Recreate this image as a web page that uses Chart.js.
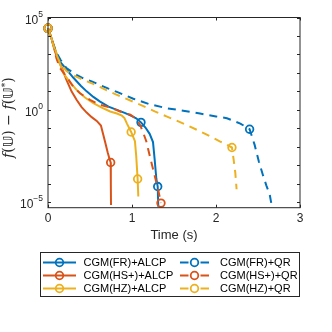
<!DOCTYPE html>
<html><head><meta charset="utf-8">
<script src="https://cdn.jsdelivr.net/npm/chart.js@4/dist/chart.umd.min.js"></script>
<style>html,body{margin:0;padding:0;background:#fff}</style>
</head><body>
<canvas id="c" width="332" height="332"></canvas>
<script>
// ---- data ----
const seriesNames = ['CGM(FR)+ALCP','CGM(HS+)+ALCP','CGM(HZ)+ALCP','CGM(FR)+QR','CGM(HS+)+QR','CGM(HZ)+QR'];
const xTicks = [0, 1, 2, 3];
const yTickExponents = [-5, 0, 5];

const tFR_ALCP = [0, 0.05, 0.10, 0.143, 0.20, 0.30, 0.39, 0.46, 0.54, 0.62, 0.72, 0.82, 0.92, 0.98, 1.05, 1.107, 1.16, 1.21, 1.25, 1.27, 1.29, 1.306, 1.313];
const fFR_ALCP = [2.6e4, 5.6e3, 1.1e3, 4.0e2, 2.0e2, 56, 20, 10, 5.0, 2.8, 1.5, 1.0, 0.66, 0.5, 0.35, 0.21, 0.11, 0.05, 0.018, 2.0e-3, 1.8e-4, 7.0e-5, 5.6e-6];
const mFR_ALCP = [0, 15, 21];

const tHS_ALCP = [0, 0.04, 0.08, 0.12, 0.163, 0.22, 0.28, 0.34, 0.40, 0.46, 0.52, 0.58, 0.63, 0.655, 0.68, 0.71, 0.735, 0.746, 0.748, 0.75];
const fHS_ALCP = [2.6e4, 7.9e3, 1.6e3, 5.0e2, 2.0e2, 42, 10, 3.5, 1.4, 0.71, 0.40, 0.25, 0.14, 0.05, 0.018, 5.0e-3, 2.0e-3, 1.4e-3, 1.0e-4, 7.1e-6];
const mHS_ALCP = [0, 17];

const tHZ_ALCP = [0, 0.05, 0.09, 0.123, 0.18, 0.26, 0.34, 0.44, 0.54, 0.64, 0.74, 0.82, 0.88, 0.91, 0.94, 0.99, 1.035, 1.05, 1.067, 1.075];
const fHZ_ALCP = [2.6e4, 5.6e3, 1.6e3, 5.6e2, 1.0e2, 32, 12, 4.6, 2.3, 1.3, 0.81, 0.63, 0.48, 0.36, 0.18, 0.063, 0.020, 3.2e-3, 1.8e-4, 2.0e-5];
const mHZ_ALCP = [0, 15, 18];

const tFR_QR = [0, 0.05, 0.10, 0.15, 0.22, 0.34, 0.42, 0.52, 0.62, 0.72, 0.82, 0.92, 1.016, 1.21, 1.41, 1.61, 1.81, 2.0, 2.13, 2.21, 2.29, 2.40, 2.46, 2.51, 2.56, 2.60, 2.64, 2.675];
const fFR_QR = [2.6e4, 5.0e3, 1.26e3, 5.0e2, 1.8e2, 78, 50, 35, 22, 14, 9.3, 6.0, 4.0, 2.0, 1.23, 0.89, 0.63, 0.44, 0.35, 0.25, 0.18, 0.089, 0.0126, 1.6e-3, 2.8e-4, 7.9e-5, 2.5e-5, 3.2e-6];
const mFR_QR = [0, 21];

const tHS_QR = [0, 0.03, 0.063, 0.10, 0.143, 0.22, 0.30, 0.38, 0.50, 0.62, 0.72, 0.80, 0.857, 0.90, 0.98, 1.056, 1.10, 1.135, 1.17, 1.194, 1.25, 1.31, 1.345];
const fHS_QR = [2.6e4, 1.0e4, 3.5e3, 6.3e2, 1.8e2, 63, 18, 7.9, 3.5, 1.86, 1.4, 1.05, 0.81, 0.71, 0.54, 0.32, 0.14, 0.055, 0.020, 6.9e-3, 6.3e-4, 5.0e-5, 8.9e-6];
const mHS_QR = [0, 22];

const tHZ_QR = [0, 0.05, 0.10, 0.143, 0.22, 0.30, 0.38, 0.46, 0.58, 0.70, 0.82, 0.98, 1.135, 1.27, 1.41, 1.53, 1.65, 1.77, 1.89, 2.05, 2.09, 2.19, 2.21, 2.23, 2.245];
const fHZ_QR = [2.6e4, 5.0e3, 1.0e3, 3.5e2, 1.26e2, 76, 51, 35, 21, 11.2, 6.5, 3.2, 1.6, 0.83, 0.44, 0.26, 0.15, 0.083, 0.045, 0.019, 0.016, 9.1e-3, 2.0e-3, 3.8e-4, 5.0e-5];
const mHZ_QR = [0, 21];

// ---- styling ----
const BLUE = '#0072BD', ORANGE = '#D95319', YELLOW = '#EDB120';
const series = [
  [tFR_ALCP, fFR_ALCP, mFR_ALCP, BLUE, false],
  [tHS_ALCP, fHS_ALCP, mHS_ALCP, ORANGE, false],
  [tHZ_ALCP, fHZ_ALCP, mHZ_ALCP, YELLOW, false],
  [tFR_QR, fFR_QR, mFR_QR, BLUE, true],
  [tHS_QR, fHS_QR, mHS_QR, ORANGE, true],
  [tHZ_QR, fHZ_QR, mHZ_QR, YELLOW, true]
];
const DASH = [8, 6];
const datasets = series.map((s, i) => ({
  label: seriesNames[i],
  data: s[0].map((t, j) => ({x: t, y: s[1][j]})),
  borderColor: s[3],
  backgroundColor: 'rgba(0,0,0,0)',
  borderWidth: 2,
  borderDash: s[4] ? DASH : [],
  pointRadius: c => s[2].includes(c.dataIndex) ? 3.8 : 0,
  pointBorderWidth: 1.8,
  pointBorderColor: s[3],
  pointBackgroundColor: 'rgba(0,0,0,0)',
  pointHoverRadius: 0,
  tension: 0,
  order: 10 - i,
  clip: {left: 10, top: 10, right: 0, bottom: 0}
}));

const TXT = '#262626';
const SANS = "'Liberation Sans', 'DejaVu Sans', sans-serif";
Chart.defaults.font.family = SANS;
Chart.defaults.color = TXT;

const boxPlugin = {
  id: 'box',
  afterDraw(chart) {
    const {ctx, chartArea: a, scales: {x, y}} = chart;
    ctx.save();
    ctx.setLineDash([]);
    ctx.strokeStyle = TXT; ctx.lineWidth = 1;
    ctx.strokeRect(a.left, a.top, a.right - a.left, a.bottom - a.top);
    ctx.beginPath();
    xTicks.forEach(v => {
      const px = Math.round(x.getPixelForValue(v)) + 0.5;
      ctx.moveTo(px, a.bottom); ctx.lineTo(px, a.bottom - 3);
      ctx.moveTo(px, a.top); ctx.lineTo(px, a.top + 3);
    });
    for (let k = -5; k <= 5; k++) {
      const py = Math.round(y.getPixelForValue(Math.pow(10, k))) + 0.5;
      ctx.moveTo(a.left, py); ctx.lineTo(a.left + 3, py);
      ctx.moveTo(a.right, py); ctx.lineTo(a.right - 3, py);
    }
    ctx.stroke();

    // y tick labels 10^k with real superscripts
    ctx.fillStyle = TXT;
    ctx.textBaseline = 'middle';
    yTickExponents.forEach(k => {
      const py = y.getPixelForValue(Math.pow(10, k));
      const exp = k < 0 ? '−' + (-k) : String(k);
      ctx.font = '8.5px ' + SANS;
      const we = ctx.measureText(exp).width;
      ctx.font = '12px ' + SANS;
      const wb = ctx.measureText('10').width;
      const xr = a.left - 5;
      ctx.fillText('10', xr - we - wb, py + 3);
      ctx.font = '8.5px ' + SANS;
      ctx.fillText(exp, xr - we, py - 3);
    });

    // y-axis title
    const cy = (a.top + a.bottom) / 2 + 5;
    ctx.translate(9.5, cy);
    ctx.rotate(-Math.PI / 2);
    const F = 14;
    const parts = [
      ['f', `italic ${F}px "DejaVu Serif"`, 0], ['(', `${F}px "DejaVu Serif"`, 0], ['𝕌', `${F}px "DejaVu Sans"`, 0], [')', `${F}px "DejaVu Serif"`, 0],
      [' − ', `${F}px "DejaVu Serif"`, 0],
      ['f', `italic ${F}px "DejaVu Serif"`, 0], ['(', `${F}px "DejaVu Serif"`, 0], ['𝕌', `${F}px "DejaVu Sans"`, 0], ['*', `9px "DejaVu Serif"`, -4], [')', `${F}px "DejaVu Serif"`, 0]
    ];
    let w = 0;
    parts.forEach(p => { ctx.font = p[1]; w += ctx.measureText(p[0]).width; });
    let xx = -w / 2;
    ctx.textBaseline = 'middle';
    parts.forEach(p => { ctx.font = p[1]; ctx.fillText(p[0], xx, p[2]); xx += ctx.measureText(p[0]).width; });
    ctx.restore();
  }
};

const legendPlugin = {
  id: 'mLegend',
  afterDraw(chart) {
    const ctx = chart.ctx;
    ctx.save();
    ctx.setLineDash([]);
    ctx.fillStyle = '#fff';
    ctx.fillRect(40.5, 252.5, 259, 44);
    ctx.strokeStyle = TXT; ctx.lineWidth = 1;
    ctx.strokeRect(40.5, 252.5, 259, 44);
    const rows = [262.5, 275.5, 288.5];
    chart.data.datasets.forEach((ds, i) => {
      const col = Math.floor(i / 3), row = i % 3;
      const x0 = col ? 180 : 43, x1 = col ? 209 : 76, xm = (x0 + x1) / 2, tx = col ? 220 : 83.5;
      const yy = rows[row];
      ctx.strokeStyle = ds.borderColor; ctx.lineWidth = 2; ctx.setLineDash([]);
      ctx.beginPath();
      if (ds.borderDash.length) {
        ctx.moveTo(x0, yy); ctx.lineTo(xm - 6, yy);
        ctx.moveTo(xm + 6, yy); ctx.lineTo(x1, yy);
      } else {
        ctx.moveTo(x0, yy); ctx.lineTo(x1, yy);
      }
      ctx.stroke();
      ctx.lineWidth = 1.8;
      ctx.beginPath(); ctx.arc(xm, yy, 3.8, 0, Math.PI * 2); ctx.stroke();
      ctx.fillStyle = '#000';
      ctx.font = '11px ' + SANS;
      ctx.textBaseline = 'middle';
      ctx.fillText(ds.label, tx, yy + 0.5);
    });
    ctx.restore();
  }
};

new Chart(document.getElementById('c'), {
  type: 'line',
  data: {datasets},
  options: {
    responsive: false,
    animation: false,
    events: [],
    layout: {padding: {top: 17.5, right: 32, bottom: 88.3, left: 0}},
    plugins: {legend: {display: false}, tooltip: {enabled: false}},
    scales: {
      x: {
        type: 'linear', min: 0, max: 3,
        afterBuildTicks: s => { s.ticks = xTicks.map(v => ({value: v})); },
        afterFit: s => { s.height = 36; },
        grid: {display: false, drawTicks: false},
        border: {display: false},
        ticks: {padding: 4, font: {size: 12}, color: TXT, maxRotation: 0},
        title: {display: true, text: 'Time (s)', font: {size: 13}, color: TXT, padding: 0}
      },
      y: {
        type: 'logarithmic', min: 5e-6, max: 1e5,
        afterBuildTicks: s => { s.ticks = yTickExponents.map(k => ({value: Math.pow(10, k)})); },
        afterFit: s => { s.width = 48; },
        grid: {display: false, drawTicks: false},
        border: {display: false},
        ticks: {display: false}
      }
    }
  },
  plugins: [boxPlugin, legendPlugin]
});
</script>
</body></html>
